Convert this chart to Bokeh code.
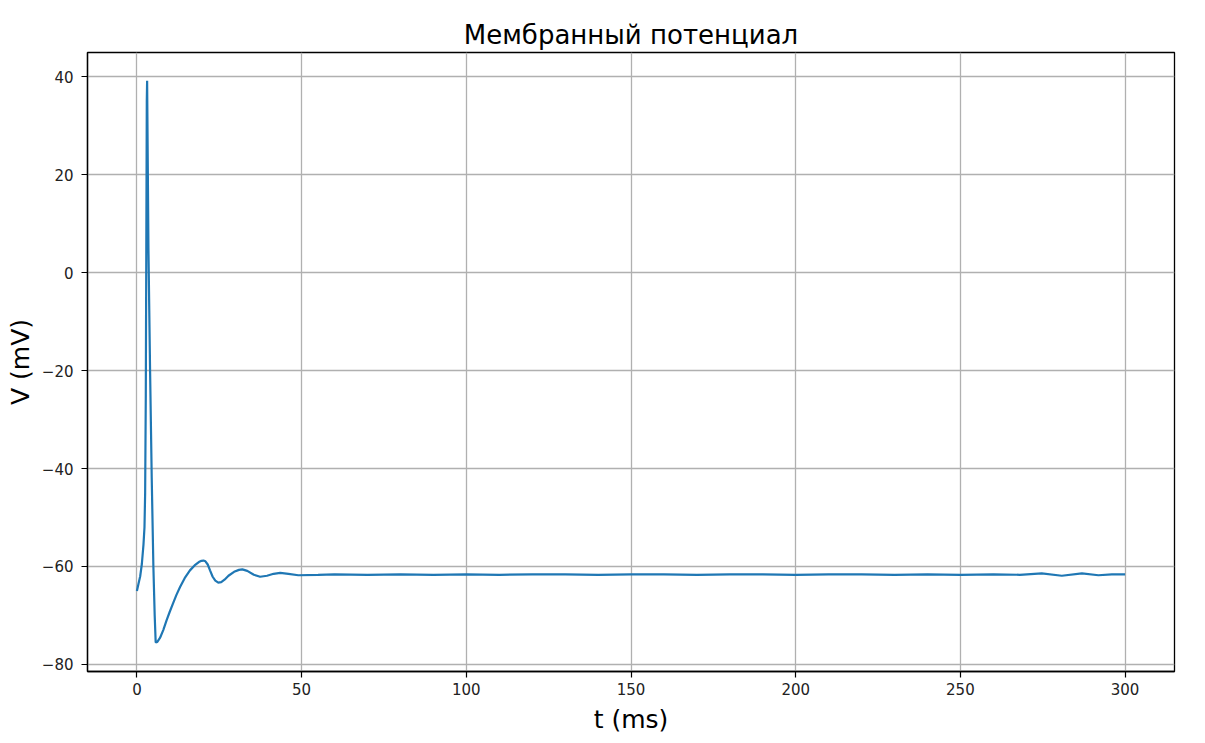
from bokeh.plotting import figure
from bokeh.models import FixedTicker, Range1d
from bokeh.embed import file_html
from bokeh.resources import INLINE

t_ms = [0, 0.5, 1.0, 1.5, 2.0, 2.3, 2.5, 2.7, 2.85, 3.0, 3.1, 3.5, 4.0, 4.5, 5.0, 5.4, 5.7,
        6.2, 7.0, 8.0, 9.0, 10.0, 11.0, 12.0, 13.1, 14.5, 16.1, 17.5, 18.8, 19.6, 20.2, 20.8,
        21.5, 22.2, 23.0, 23.8, 24.7, 25.6, 26.6, 27.8, 29.5, 31.0, 32.0, 33.5, 35.5, 37.4,
        39.5, 41.5, 43.5, 46.0, 49.0,
        55, 60, 70, 80, 90, 100, 110, 120, 130, 140, 150, 160, 170, 180, 190, 200,
        210, 220, 230, 240, 250, 260, 268, 274.7, 280.8, 286.9, 291.9, 296, 300]
v_mv = [-65.0, -63.5, -62.0, -59.5, -55.5, -52.0, -45.0, -25.0, 5.0, 35.0, 39.2, 5.0, -20.0,
        -42.0, -60.0, -70.0, -75.5, -75.4, -74.6, -73.0, -71.0, -69.2, -67.5, -65.8, -64.2,
        -62.4, -60.8, -59.8, -59.1, -58.85, -58.8, -58.95, -59.6, -60.8, -62.1, -62.9, -63.3,
        -63.2, -62.7, -61.9, -61.1, -60.7, -60.6, -60.9, -61.7, -62.1,
        -61.9, -61.5, -61.3, -61.5, -61.8,
        -61.7, -61.6, -61.7, -61.6, -61.7, -61.6, -61.7, -61.6, -61.6, -61.7, -61.6, -61.6,
        -61.7, -61.6, -61.6, -61.7, -61.6, -61.6, -61.7, -61.6, -61.7, -61.6, -61.7, -61.4,
        -61.9, -61.4, -61.8, -61.6, -61.6]

x_ticks = [0, 50, 100, 150, 200, 250, 300]
y_ticks = [-80, -60, -40, -20, 0, 20, 40]

p = figure(width=1205, height=743, output_backend="svg", toolbar_location=None,
           title="Мембранный потенциал",
           x_range=Range1d(-15, 315), y_range=Range1d(-81.45, 44.95),
           min_border_left=87, min_border_right=31, min_border_top=52, min_border_bottom=72)

p.line(t_ms, v_mv, line_color="#1f77b4", line_width=2.2)

p.title.align = "center"
p.title.text_font = "DejaVu Sans"
p.title.text_font_size = "26px"
p.title.text_font_style = "normal"
p.title.text_color = "#000000"
p.title.standoff = 6

for ax, ticks in ((p.xaxis, x_ticks), (p.yaxis, y_ticks)):
    ax.ticker = FixedTicker(ticks=ticks)
    ax.minor_tick_line_color = None
    ax.major_tick_out = 6
    ax.major_tick_in = 0
    ax.major_tick_line_color = "#000000"
    ax.major_tick_line_width = 1.2
    ax.axis_line_color = "#000000"
    ax.axis_line_width = 1.3
    ax.major_label_text_font = "DejaVu Sans"
    ax.major_label_text_font_size = "15px"
    ax.major_label_text_color = "#222222"
    ax.axis_label_text_font = "DejaVu Sans"
    ax.axis_label_text_font_size = "25px"
    ax.axis_label_text_font_style = "normal"
    ax.axis_label_text_color = "#000000"

p.xaxis.axis_label = "t (ms)"
p.yaxis.axis_label = "V (mV)"
p.yaxis.major_label_orientation = "horizontal"
p.xaxis.major_label_standoff = 5
p.yaxis.major_label_standoff = 8
p.xaxis.axis_label_standoff = 7
p.yaxis.axis_label_standoff = 4

p.grid.grid_line_color = "#b0b0b0"
p.grid.grid_line_width = 1.3
p.outline_line_color = "#000000"
p.outline_line_width = 1.3
p.background_fill_color = "#ffffff"
p.border_fill_color = "#ffffff"

open("out.html", "w").write(file_html(p, INLINE))
